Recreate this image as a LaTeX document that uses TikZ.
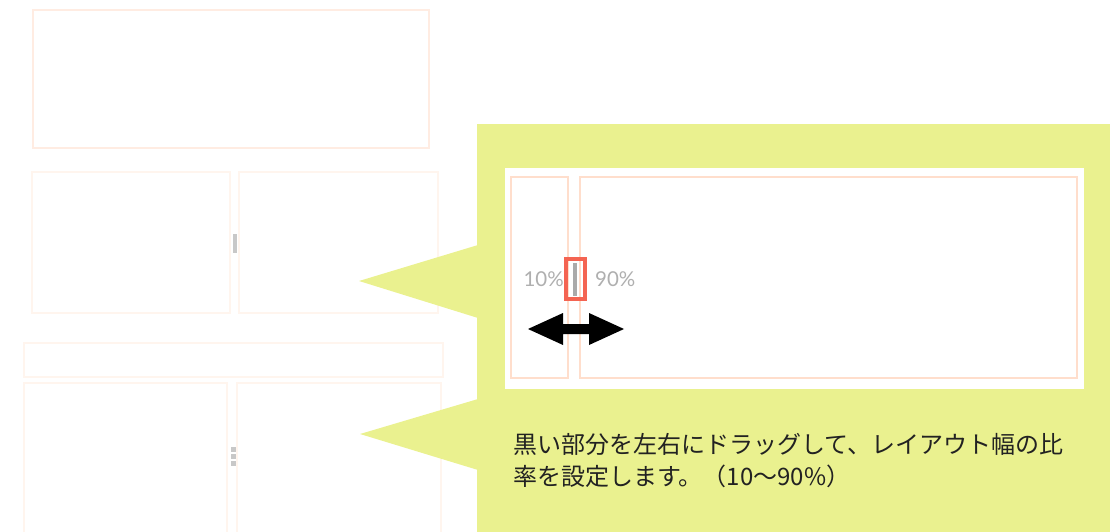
\documentclass[tikz,border=0pt]{standalone}
\usepackage{fontspec}
\newfontfamily\jp{Noto Sans CJK JP}
\newfontfamily\latosans{Lato}
\definecolor{callout}{RGB}{234,241,143}
\definecolor{peachA}{RGB}{255,236,226}
\definecolor{peachB}{RGB}{255,245,238}
\definecolor{peachC}{RGB}{255,222,204}
\definecolor{redbox}{RGB}{244,100,82}
\definecolor{handle}{RGB}{200,200,200}
\definecolor{pcttext}{RGB}{175,175,175}
\definecolor{jptext}{RGB}{34,34,34}
\tikzset{
  faintbox/.style={draw=peachA, line width=2pt},
  fainterbox/.style={draw=peachB, line width=2pt},
  innerbox/.style={draw=peachC, line width=2pt},
  callshape/.style={fill=callout, draw=none},
  pct/.style={font=\latosans\fontsize{20.5}{22}\selectfont, text=pcttext, inner sep=0pt},
  jpline/.style={font=\jp\fontsize{24}{28}\selectfont, text=jptext, inner sep=0pt, anchor=west}
}
\begin{document}
\begin{tikzpicture}[x=1pt,y=-1pt]
\useasboundingbox (0,0) rectangle (1110,532);
% left mock layout
\draw[faintbox] (33,10) rectangle (429,148);
\draw[fainterbox] (32,172) rectangle (230,313);
\draw[fainterbox] (239,172) rectangle (438,313);
\fill[handle] (233,234) rectangle (237,253);
\draw[fainterbox] (24,343) rectangle (443,377);
\draw[fainterbox] (24,383) rectangle (227,540);
\draw[fainterbox] (237,383) rectangle (441,540);
\fill[handle] (231,447) rectangle (236,452);
\fill[handle] (231,454) rectangle (236,459);
\fill[handle] (231,461) rectangle (236,466);
% callout
\fill[callshape] (477,124) rectangle (1110,532);
\fill[callshape] (359,281) -- (478,245) -- (478,318) -- cycle;
\fill[callshape] (360,434) -- (478,399) -- (478,470) -- cycle;
% white inset
\fill[white] (505,168) rectangle (1084,389);
\draw[innerbox] (511,177) rectangle (568,378);
\draw[innerbox] (580,177) rectangle (1077,378);
\node[pct, anchor=east] (p10) at (564,279) {10\%};
\node[pct, anchor=west] (p90) at (595,279) {90\%};
\fill[handle!85!black] (573,263) rectangle (577,296);
\draw[redbox, line width=4pt] (566,259) rectangle (585,299);
% double arrow
\fill[black] (528,329) -- (563,313) -- (563,324) -- (589,324) -- (589,313) -- (624,329)
  -- (589,345) -- (589,334) -- (563,334) -- (563,345) -- cycle;
% text
\node[jpline] (l1) at (513,444) {黒い部分を左右にドラッグして、レイアウト幅の比};
\node[jpline] (l2) at (513,476) {率を設定します。（10〜90\%）};
\end{tikzpicture}
\end{document}
